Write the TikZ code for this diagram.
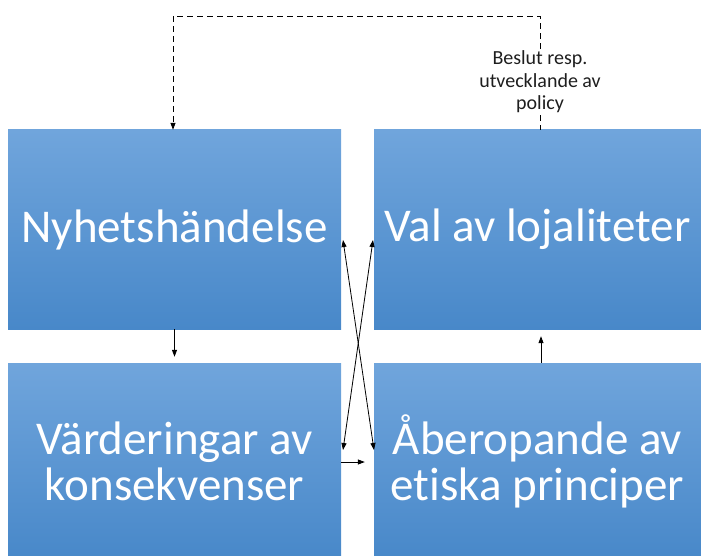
\documentclass[tikz,border=0pt]{standalone}
\usepackage{fontspec}
\setmainfont{Carlito}[Ligatures=CommonOff]
\usetikzlibrary{arrows.meta,calc}
\definecolor{boxtop}{RGB}{112,165,220}
\definecolor{boxbot}{RGB}{72,136,201}
\definecolor{lbl}{RGB}{30,30,30}
\tikzset{
  bluebox/.style={rectangle, inner sep=0pt, top color=boxtop, bottom color=boxbot, draw=none,
    text=white, align=center, font=\fontsize{47}{46}\selectfont},
  arr/.style={-{Triangle[length=7pt,width=5pt]}, line width=0.8pt, black},
  darr/.style={{Triangle[length=7pt,width=5pt]}-{Triangle[length=7pt,width=5pt]}, line width=0.8pt, black},
  dashln/.style={dash pattern=on 6pt off 4pt, line width=0.8pt, black}
}
\begin{document}
\begin{tikzpicture}[x=1pt,y=-1pt]
\useasboundingbox (0,0) rectangle (701,556);
\node[bluebox, minimum width=333pt, minimum height=199pt] (A) at (174.5,229.5) {Nyhetshändelse};
\node[bluebox, minimum width=327pt, minimum height=199pt] (B) at (537.5,229.5) {Val av lojaliteter};
\node[bluebox, minimum width=333pt, minimum height=196pt] (C) at (174.5,461) {Värderingar av\\konsekvenser};
\node[bluebox, minimum width=327pt, minimum height=196pt] (D) at (537.5,461) {Åberopande av\\etiska principer};
\node[text=lbl, align=center, font=\fontsize{20}{22.5}\selectfont, inner sep=2pt] (L) at (540,82) {Beslut resp.\\utvecklande av\\policy};
\coordinate (t1) at (540,16);
\coordinate (t2) at (173,16);
\draw[dashln, -{Triangle[length=7pt,width=5pt]}] (L.north) -- (t1) -- (t2) -- (t2 |- A.north);
\draw[dashln] (L.south) -- (L.south |- B.north);
\draw[arr, shorten >=6pt] (A.south) -- (C.north);
\draw[arr, shorten >=7pt] ([xshift=3.5pt]D.north) -- ([xshift=3.5pt]B.south);
\coordinate (p1) at (343,240);
\coordinate (p2) at (374,450);
\coordinate (p3) at (373,240);
\coordinate (p4) at (343,450);
\draw[darr] (p1) -- (p2);
\draw[darr] (p3) -- (p4);
\coordinate (h) at (341,462);
\draw[arr, shorten >=9pt] (h) -- (h -| D.west);
\end{tikzpicture}
\end{document}
